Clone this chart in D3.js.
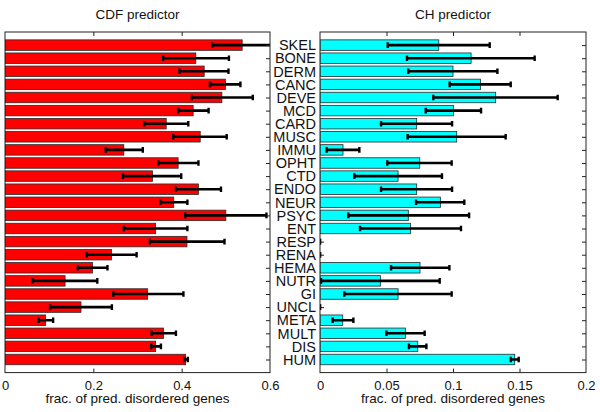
<!DOCTYPE html>
<html>
<head>
<meta charset="utf-8">
<style>
  body { margin: 0; background: #fff; }
  svg { font-family: "Liberation Sans", Arial, sans-serif; }
  .axis path { display: none; }
  .axis line { stroke: #222; }
</style>
</head>
<body>
<svg id="container" width="600" height="412"></svg>

<script src="https://d3js.org/d3.v7.min.js"></script>
<script>
  // categories top to bottom
  const categories = ['SKEL','BONE','DERM','CANC','DEVE','MCD','CARD','MUSC','IMMU','OPHT','CTD','ENDO',
    'NEUR','PSYC','ENT','RESP','RENA','HEMA','NUTR','GI','UNCL','META','MULT','DIS','HUM']

  // CDF predictor (left panel)
  const cdfValues = [0.537,0.432,0.451,0.499,0.491,0.426,0.365,0.442,0.269,0.392,0.334,0.438,
    0.382,0.500,0.341,0.412,0.241,0.198,0.136,0.323,0.172,0.092,0.359,0.341,0.409]
  const cdfLow = [0.469,0.358,0.395,0.464,0.423,0.392,0.315,0.381,0.228,0.347,0.267,0.387,
    0.352,0.408,0.269,0.328,0.185,0.165,0.062,0.245,0.102,0.076,0.332,0.331,0.406]
  const cdfHigh = [0.63,0.507,0.506,0.533,0.561,0.461,0.415,0.502,0.312,0.438,0.399,0.489,
    0.413,0.592,0.413,0.497,0.298,0.232,0.209,0.404,0.242,0.109,0.387,0.353,0.414]

  // CH predictor (right panel)
  const chValues = [0.0893,0.1136,0.1000,0.1206,0.1321,0.1003,0.0727,0.1028,0.0173,0.0750,0.0587,0.0727,
    0.0905,0.0664,0.0680,0,0,0.0752,0.0454,0.0587,0,0.0171,0.0642,0.0735,0.1464]
  const chLow = [0.0509,0.0654,0.0664,0.0975,0.0852,0.0795,0.0459,0.0659,0.0050,0.0506,0.0258,0.0459,
    0.0722,0.0213,0.0301,0,0,0.0534,0.0008,0.0183,0,0.0095,0.0499,0.0669,0.1434]
  const chHigh = [0.1276,0.1614,0.1334,0.1434,0.1787,0.1211,0.0993,0.1396,0.0296,0.0990,0.0917,0.0993,
    0.1085,0.1121,0.1060,0,0,0.0973,0.0900,0.0990,0,0.0251,0.0787,0.0800,0.1494]

  const svg = d3.select('#container')
  const plotTop = 32, plotBottom = 372.6
  const yScale = d3.scaleLinear().domain([0, categories.length + 1]).range([plotTop, plotBottom])
  const barH = (yScale(1) - yScale(0)) * 0.8
  const rowTicks = d3.range(1, categories.length + 1)

  function panel(cfg) {
    const x = d3.scaleLinear().domain(cfg.domain).range([cfg.x0, cfg.x1])
    const g = svg.append('g')
    const clipId = 'clip' + cfg.x0
    svg.append('clipPath').attr('id', clipId)
      .append('rect').attr('x', cfg.x0).attr('y', plotTop).attr('width', cfg.x1 - cfg.x0).attr('height', plotBottom - plotTop)

    // left ticks (under bars)
    g.append('g').attr('class', 'axis').attr('transform', `translate(${cfg.x0},0)`)
      .call(d3.axisLeft(yScale).tickValues(rowTicks).tickSize(-4).tickFormat(''))

    const body = g.append('g').attr('clip-path', `url(#${clipId})`)
    body.selectAll('rect.bar')
      .data(cfg.values)
      .enter()
      .append('rect')
      .attr('class', 'bar')
      .attr('x', x(0))
      .attr('y', (d, i) => yScale(i + 1) - barH / 2)
      .attr('width', d => x(d) - x(0))
      .attr('height', barH)
      .attr('fill', cfg.color)
      .attr('stroke', '#2a2a2a')
      .attr('stroke-width', 0.8)
      .attr('display', d => d > 0 ? null : 'none')

    // error bars
    const err = body.selectAll('g.err')
      .data(cfg.values.map((v, i) => ({ v, lo: cfg.low[i], hi: cfg.high[i], i })))
      .enter()
      .append('g')
    err.append('line')
      .attr('x1', d => x(d.lo)).attr('x2', d => x(d.hi))
      .attr('y1', d => yScale(d.i + 1)).attr('y2', d => yScale(d.i + 1))
      .attr('stroke', '#000').attr('stroke-width', 2.6)
    ;['lo', 'hi'].forEach(k => {
      err.append('line')
        .attr('x1', d => x(d[k])).attr('x2', d => x(d[k]))
        .attr('y1', d => yScale(d.i + 1) - 2.8).attr('y2', d => yScale(d.i + 1) + 2.8)
        .attr('stroke', '#000').attr('stroke-width', 2.4)
    })

    // right ticks
    g.append('g').attr('class', 'axis').attr('transform', `translate(${cfg.x1},0)`)
      .call(d3.axisRight(yScale).tickValues(rowTicks).tickSize(-4).tickFormat(''))

    // bottom axis
    const bAxis = g.append('g').attr('class', 'axis').attr('transform', `translate(0,${plotBottom})`)
      .call(d3.axisBottom(x).tickValues(cfg.ticks).tickSize(-4).tickPadding(8).tickFormat((d, i) => cfg.labels[i]))
    bAxis.selectAll('text').attr('font-size', 13).attr('fill', '#111').attr('font-family', '"Liberation Sans", Arial, sans-serif')
    bAxis.selectAll('.tick line').filter((d, i, n) => i === 0 || i === n.length - 1).remove()

    // top ticks
    g.append('g').attr('class', 'axis').attr('transform', `translate(0,${plotTop})`)
      .call(d3.axisTop(x).tickValues(cfg.ticks.slice(1, -1)).tickSize(-4).tickFormat(''))

    // frame
    g.append('rect')
      .attr('x', cfg.x0).attr('y', plotTop)
      .attr('width', cfg.x1 - cfg.x0).attr('height', plotBottom - plotTop)
      .attr('fill', 'none').attr('stroke', '#222').attr('stroke-width', 1)

    g.append('text')
      .attr('x', (cfg.x0 + cfg.x1) / 2).attr('y', 19)
      .attr('text-anchor', 'middle').attr('font-size', 13.5).attr('fill', '#111')
      .text(cfg.title)
    g.append('text')
      .attr('x', (cfg.x0 + cfg.x1) / 2).attr('y', 403)
      .attr('text-anchor', 'middle').attr('font-size', 13.5).attr('fill', '#111')
      .text('frac. of pred. disordered genes')
  }

  panel({
    domain: [0, 0.6], x0: 5, x1: 270, color: '#ff0000',
    values: cdfValues, low: cdfLow, high: cdfHigh,
    ticks: [0, 0.2, 0.4, 0.6], labels: ['0', '0.2', '0.4', '0.6'], title: 'CDF predictor'
  })
  panel({
    domain: [0, 0.2], x0: 320, x1: 586, color: '#00ffff',
    values: chValues, low: chLow, high: chHigh,
    ticks: [0, 0.05, 0.1, 0.15, 0.2], labels: ['0', '0.05', '0.1', '0.15', '0.2'], title: 'CH predictor'
  })

  // category labels
  svg.selectAll('text.cat')
    .data(categories)
    .enter()
    .append('text')
    .attr('class', 'cat')
    .attr('x', 316)
    .attr('y', (d, i) => yScale(i + 1))
    .attr('dy', '0.36em')
    .attr('text-anchor', 'end')
    .attr('font-size', 14.5)
    .attr('fill', '#111')
    .text(d => d)
</script>
</body>
</html>
